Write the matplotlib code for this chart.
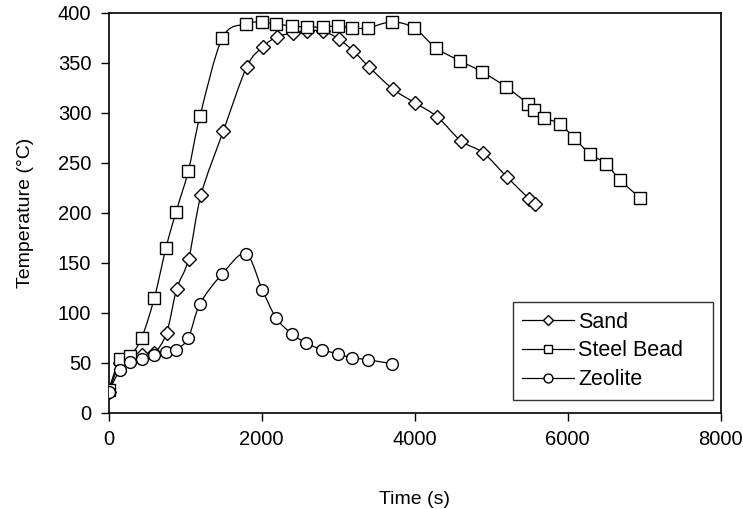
import numpy as np
import matplotlib
matplotlib.use("Agg")
import matplotlib.pyplot as plt
from matplotlib.path import Path
from matplotlib.patches import PathPatch
from matplotlib.lines import Line2D

plt.rcParams['font.family'] = ['Liberation Sans', 'DejaVu Sans']

# Sand
sand_t = [0, 148, 270, 431, 597, 758, 889, 1046, 1207, 1499, 1804, 2013, 2196, 2406,
          2588, 2797, 3006, 3198, 3403, 3712, 4004, 4296, 4605, 4897, 5203, 5497, 5572]
sand_T = [21, 50, 56, 58, 60, 80, 124, 154, 218, 282, 346, 366, 376, 380,
          382, 382, 374, 362, 346, 324, 310, 296, 272, 260, 236, 214, 209]

# Steel bead
steel_t = [0, 148, 279, 431, 597, 749, 880, 1041, 1194, 1486, 1791, 2000, 2187, 2392,
           2588, 2797, 3001, 3184, 3386, 3699, 3991, 4279, 4592, 4883, 5194, 5484,
           5559, 5690, 5899, 6082, 6292, 6501, 6683, 6945]
steel_T = [23, 54, 57, 75, 115, 165, 201, 242, 297, 375, 389, 391, 389, 387,
           386, 386, 387, 385, 385, 391, 385, 365, 352, 341, 326, 309,
           303, 295, 289, 275, 259, 249, 233, 215]

# Zeolite
zeo_t = [0, 148, 279, 431, 597, 749, 880, 1041, 1194, 1486, 1791, 2008, 2187, 2392,
         2575, 2784, 2993, 3176, 3386, 3699]
zeo_T = [21, 43, 51, 54, 58, 61, 63, 75, 109, 139, 159, 123, 95, 79,
         70, 63, 59, 55, 53, 49]

series = [("Sand", sand_t, sand_T, "D", 7.0),
          ("Steel Bead", steel_t, steel_T, "s", 8.5),
          ("Zeolite", zeo_t, zeo_T, "o", 8.5)]


def smooth_path(x, y):
    # Excel-like smoothed line: Catmull-Rom style cubic Bezier through the points
    p = np.column_stack([x, y]).astype(float)
    n = len(p)
    verts = [p[0]]
    codes = [Path.MOVETO]
    for i in range(n - 1):
        p0 = p[i - 1] if i > 0 else p[i]
        p3 = p[i + 2] if i + 2 < n else p[i + 1]
        c1 = p[i] + (p[i + 1] - p0) / 6.0
        c2 = p[i + 1] - (p3 - p[i]) / 6.0
        verts += [c1, c2, p[i + 1]]
        codes += [Path.CURVE4] * 3
    return Path(verts, codes)


fig = plt.figure(figsize=(7.43, 5.09), dpi=100)
ax = fig.add_axes([0.1463, 0.1892, 0.8237, 0.7853])

handles = []
for name, t, T, mk, ms in series:
    ax.add_patch(PathPatch(smooth_path(t, T), facecolor='none', edgecolor='black',
                           lw=0.9, zorder=2))
    ax.plot(t, T, linestyle='none', marker=mk, markersize=ms, markerfacecolor='white',
            markeredgecolor='black', markeredgewidth=1.0, zorder=3)
    handles.append(Line2D([], [], color='black', lw=0.9, marker=mk, markersize=ms * 0.75,
                          markerfacecolor='white', markeredgecolor='black',
                          markeredgewidth=1.0, label=name))

ax.set_xlim(0, 8000)
ax.set_ylim(0, 400)
ax.set_xticks(np.arange(0, 8001, 2000))
ax.set_yticks(np.arange(0, 401, 50))
ax.tick_params(direction='out', length=5.5, width=1, labelsize=14.5, pad=7, colors='black')
for s in ax.spines.values():
    s.set_linewidth(1.2)

ax.set_xlabel('Time (s)', fontsize=14, labelpad=30)
ax.set_ylabel('Temperature (°C)', fontsize=14, labelpad=17)

leg = ax.legend(handles=handles, loc='lower left', bbox_to_anchor=(0.660, 0.032, 0.328, 0.233),
                mode='expand', borderaxespad=0, fontsize=15.5, fancybox=False, frameon=True,
                handlelength=2.4, handletextpad=0.2, labelspacing=0.36,
                borderpad=0.45)
leg.get_frame().set_edgecolor('black')
leg.get_frame().set_linewidth(1.0)

fig.savefig('out.png', dpi=100)
